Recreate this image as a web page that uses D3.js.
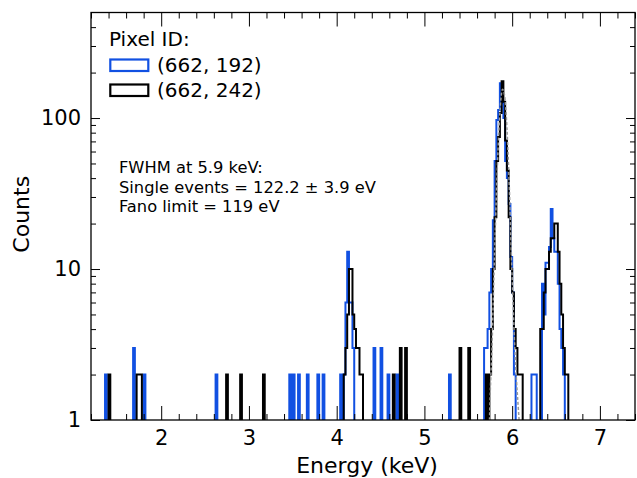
<!DOCTYPE html>
<html>
<head>
<meta charset="utf-8">
<script src="https://cdn.jsdelivr.net/npm/d3@7"></script>
<style>
  body { margin: 0; background: #fff; }
  text { font-family: "DejaVu Sans", sans-serif; fill: #000; }
</style>
</head>
<body>
<svg id="chart" width="637" height="478"></svg>
<script>
// histogram bins (keV), 20 eV wide; only bins with counts are listed
const binWidth = 0.02;

const blueEnergy = [1.36, 1.68, 1.80, 2.62, 3.46, 3.50, 3.56, 3.66, 3.78, 3.84, 4.04,
  4.08, 4.10, 4.12, 4.14, 4.16, 4.18, 4.42, 4.50, 4.58, 4.68, 5.28,
  5.68, 5.70, 5.72, 5.74, 5.76, 5.78, 5.80, 5.82, 5.84, 5.86, 5.88, 5.90, 5.92, 5.94, 5.96, 5.98, 6.00, 6.02,
  6.22, 6.24, 6.26, 6.34, 6.36, 6.38, 6.40, 6.42, 6.44, 6.46, 6.48, 6.50, 6.52, 6.54, 6.56, 6.58];
const blueCounts = [2, 3, 2, 2, 2, 2, 2, 2, 2, 2, 2,
  2, 6, 13, 6, 6, 3, 3, 3, 2, 2, 2,
  3, 3, 4, 7, 10, 21, 52, 97, 113, 170, 126, 100, 52, 40, 27, 12, 7, 2,
  2, 2, 2, 8, 5, 11, 11, 14, 25, 16, 13, 13, 8, 4, 3, 2];

const blackEnergy = [1.40, 1.72, 1.74, 1.76, 2.74, 2.90, 3.16,
  4.08, 4.10, 4.12, 4.14, 4.16, 4.18, 4.20, 4.22, 4.24, 4.26, 4.28, 4.64, 4.72, 4.78, 5.40, 5.50,
  5.70, 5.74, 5.76, 5.78, 5.80, 5.82, 5.84, 5.86, 5.88, 5.90, 5.92, 5.94, 5.96, 5.98, 6.00, 6.02, 6.04, 6.06, 6.08, 6.10,
  6.32, 6.34, 6.36, 6.38, 6.40, 6.42, 6.44, 6.46, 6.48, 6.50, 6.52, 6.54, 6.56, 6.58, 6.60, 6.62];
const blackCounts = [2, 2, 2, 2, 2, 2, 2,
  2, 3, 5, 10, 10, 5, 4, 3, 3, 2, 2, 2, 3, 3, 3, 3,
  2, 2, 4, 10, 22, 52, 75, 108, 175, 128, 71, 45, 22, 10, 7, 4, 3, 2, 2, 2,
  4, 4, 7, 10, 10, 13, 16, 16, 20, 20, 13, 8, 5, 3, 2, 2];

// fitted line profile (grey dashed)
const modelEnergy = [5.73, 5.75, 5.77, 5.79, 5.81, 5.83, 5.85, 5.87, 5.89, 5.91, 5.93, 5.95, 5.97, 5.99, 6.01, 6.03, 6.05, 6.07, 6.09, 6.11];
const modelCounts = [0.5, 1.5, 3, 8, 20, 45, 85, 130, 155, 145, 110, 65, 32, 13, 6, 3, 1.8, 1.2, 0.8, 0.5];

const xTicks = [2, 3, 4, 5, 6, 7];
const yTicks = [1, 10, 100];
const legendLabels = ["(662, 192)", "(662, 242)"];
const noteLines = ["FWHM at 5.9 keV:", "Single events = 122.2 \u00b1 3.9 eV", "Fano limit = 119 eV"];

const colors = { blue: "#1150e2", black: "#000" };

const margin = { top: 12.5, right: 2, bottom: 58, left: 91 };
const W = 637, H = 478;
const innerW = W - margin.left - margin.right;
const innerH = H - margin.top - margin.bottom;

const svg = d3.select("#chart");
const g = svg.append("g").attr("transform", `translate(${margin.left},${margin.top})`);

const x = d3.scaleLinear().domain([1.2, 7.4]).range([0, innerW]);
const y = d3.scaleLog().domain([1, 500]).range([innerH, 0]);

g.append("clipPath").attr("id", "clip")
  .append("rect").attr("width", innerW).attr("height", innerH);

// expand the sparse lists to a full set of bins, empty bins sit below the axis
function fullBins(energies, counts) {
  const map = new Map(energies.map((e, i) => [Math.round(e * 100), counts[i]]));
  const n = Math.round((7.4 - 1.2) / binWidth);
  const out = [];
  for (let i = 0; i <= n; i++) {
    const k = 120 + i * 2;
    out.push({ e: k / 100, c: map.get(k) || 0.3 });
  }
  return out;
}

const step = d3.line()
  .x(d => x(d.e))
  .y(d => y(d.c))
  .curve(d3.curveStepAfter);

const plot = g.append("g").attr("clip-path", "url(#clip)");

[[blueEnergy, blueCounts, colors.blue], [blackEnergy, blackCounts, colors.black]].forEach(([e, c, col]) => {
  plot.append("path")
    .datum(fullBins(e, c))
    .attr("fill", "none")
    .attr("stroke", col)
    .attr("stroke-width", 2)
    .attr("d", step);
});

plot.append("path")
  .datum(modelEnergy.map((e, i) => ({ e, c: modelCounts[i] })))
  .attr("fill", "none")
  .attr("stroke", "#999")
  .attr("stroke-width", 1.5)
  .attr("stroke-dasharray", "3,2")
  .attr("d", d3.line().x(d => x(d.e)).y(d => y(d.c)).curve(d3.curveMonotoneX));

// axes, ticks pointing inward on all four sides
const xMinor = d3.range(12, 75, 2).map(v => v / 10).filter(v => !xTicks.includes(v));
const yMinor = [2, 3, 4, 5, 6, 7, 8, 9, 20, 30, 40, 50, 60, 70, 80, 90, 200, 300, 400];

function addAxis(axis, transform) {
  const a = g.append("g").attr("transform", transform).call(axis);
  a.select(".domain").remove();
  a.selectAll("line").attr("stroke", "#000").attr("stroke-width", 1);
  a.selectAll("text").style("font-size", "21px").attr("fill", "#000");
  return a;
}

addAxis(d3.axisBottom(x).tickValues(xTicks).tickSize(-14).tickPadding(10).tickFormat(d3.format("d")), `translate(0,${innerH})`);
addAxis(d3.axisBottom(x).tickValues(xMinor).tickSize(-6).tickFormat(""), `translate(0,${innerH})`);
addAxis(d3.axisTop(x).tickValues(xTicks).tickSize(-14).tickFormat(""), "translate(0,0)");
addAxis(d3.axisTop(x).tickValues(xMinor).tickSize(-6).tickFormat(""), "translate(0,0)");

addAxis(d3.axisLeft(y).tickValues(yTicks).tickSize(-9).tickPadding(10).tickFormat(d3.format("d")), "translate(0,0)");
addAxis(d3.axisLeft(y).tickValues(yMinor).tickSize(-5).tickFormat(""), "translate(0,0)");
addAxis(d3.axisRight(y).tickValues(yTicks).tickSize(-9).tickFormat(""), `translate(${innerW},0)`);
addAxis(d3.axisRight(y).tickValues(yMinor).tickSize(-5).tickFormat(""), `translate(${innerW},0)`);

g.append("rect")
  .attr("width", innerW).attr("height", innerH)
  .attr("fill", "none").attr("stroke", "#000").attr("stroke-width", 1.3);

// axis titles
g.append("text")
  .attr("x", innerW / 2 + 4).attr("y", innerH + 53)
  .attr("text-anchor", "middle").style("font-size", "22px")
  .text("Energy (keV)");

svg.append("text")
  .attr("transform", `translate(29,${margin.top + innerH / 2 - 2}) rotate(-90)`)
  .attr("text-anchor", "middle").style("font-size", "22px")
  .text("Counts");

// legend
const leg = svg.append("g").attr("transform", "translate(109,0)");
leg.append("text").attr("x", 0).attr("y", 46).style("font-size", "20px").text("Pixel ID:");
[colors.blue, colors.black].forEach((col, i) => {
  leg.append("rect")
    .attr("x", 1.3).attr("y", 59.5 + i * 25).attr("width", 38).attr("height", 11.5)
    .attr("fill", "#fff").attr("stroke", col).attr("stroke-width", 2.2);
  leg.append("text")
    .attr("x", 48).attr("y", 72 + i * 25)
    .style("font-size", "20px").text(legendLabels[i]);
});

// fit note
svg.append("g").selectAll("text")
  .data(noteLines)
  .join("text")
  .attr("x", 119).attr("y", (d, i) => 173 + i * 19.5)
  .style("font-size", "16.3px")
  .text(d => d);
</script>
</body>
</html>
